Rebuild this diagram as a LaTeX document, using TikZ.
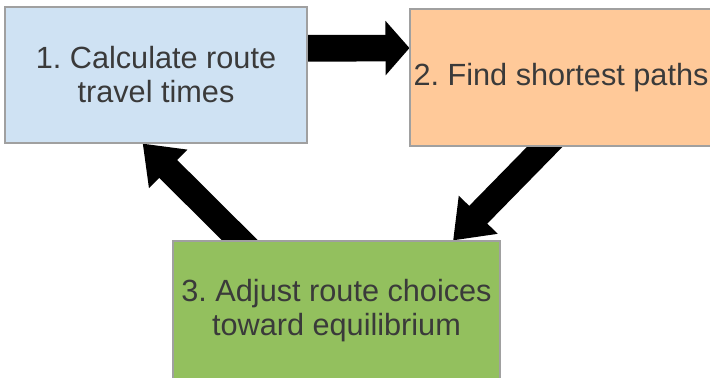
\documentclass[tikz,border=0pt]{standalone}
\usepackage{fontspec}
\setmainfont{Liberation Sans}
\usetikzlibrary{arrows.meta,calc,backgrounds}
\frenchspacing

\definecolor{stepblue}{RGB}{207,226,243}
\definecolor{steporange}{RGB}{255,201,153}
\definecolor{stepgreen}{RGB}{147,192,94}
\definecolor{steptext}{RGB}{58,58,58}
\definecolor{stepedge}{RGB}{160,160,160}

\begin{document}
\begin{tikzpicture} [x=0.75pt, y=-0.75pt, block/.style={rectangle, draw=stepedge, line width=0.8pt, align=center, text=steptext, font=\fontsize{23}{25.5}\selectfont, inner sep=0pt}, flow/.style={line width=20pt, -{Triangle[length=18pt,width=40pt]}}, flowdiag/.style={line width=19pt, -{Triangle[length=27pt,width=39pt]}}]
  \useasboundingbox (0,0) rectangle (710,378);
  %% the three steps
  \node [block, fill=stepblue, minimum width=226.5pt, minimum height=102pt] (calc) at (156,75) {1. Calculate route\\travel times};
  \node [block, fill=steporange, minimum width=226.5pt, minimum height=102.75pt] (paths) at (561,77.5) {2. Find shortest paths};
  \node [block, fill=stepgreen, minimum width=245.25pt, minimum height=104.25pt] (adjust) at (336.5,310.5) {3. Adjust route choices\\toward equilibrium};
  % Draw edges (tails tucked under the boxes)
  \begin{scope}[on background layer]
    \draw [flow] (calc.10) -- (paths.169);
    \draw [flowdiag] ($(paths.257)!-12pt!(adjust.31)$) -- (adjust.31);
    \draw [flowdiag] ($(adjust.144)!-12pt!(calc.259)$) -- (calc.259);
  \end{scope}
\end{tikzpicture}
\end{document}
